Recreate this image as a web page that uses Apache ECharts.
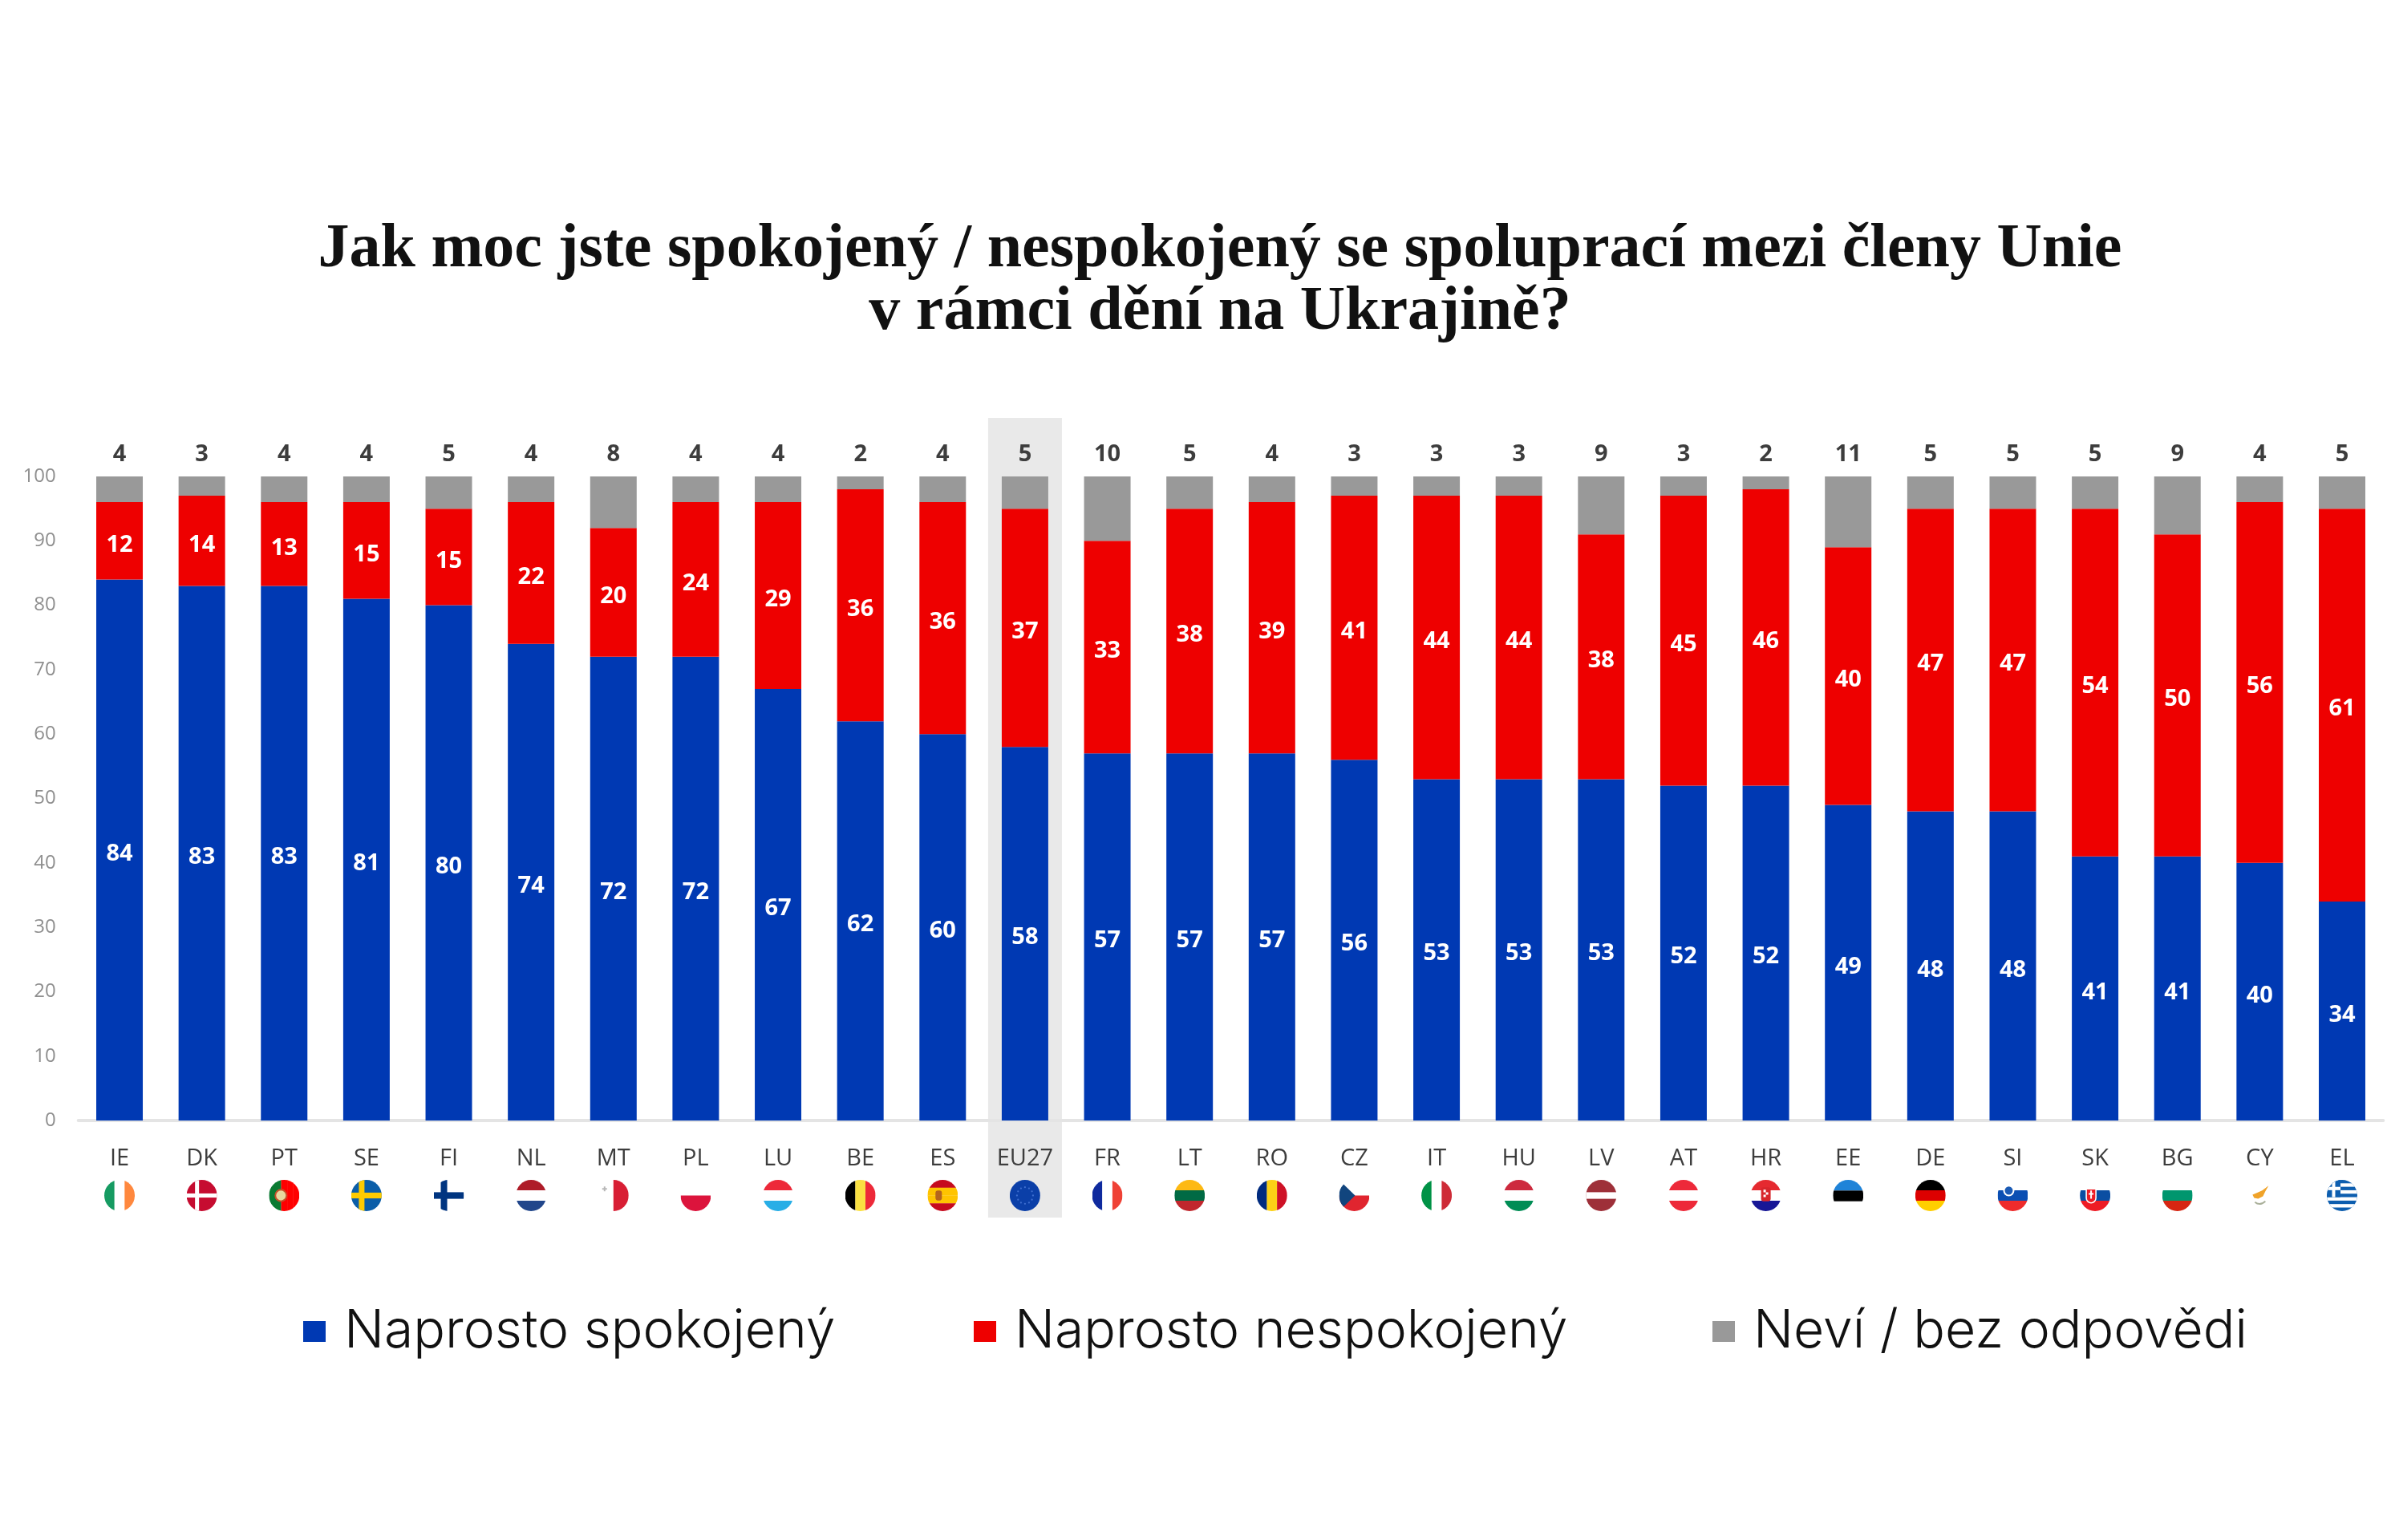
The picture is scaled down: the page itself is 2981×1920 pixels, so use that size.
<!DOCTYPE html>
<html lang="cs">
<head>
<meta charset="utf-8">
<title>Spokojenost se spoluprací členů Unie</title>
<script src="https://cdn.jsdelivr.net/npm/echarts@6/dist/echarts.min.js"></script>
<style>
  html, body { margin: 0; padding: 0; background: #fff; }
  #chart { width: 2981px; height: 1920px; }
</style>
</head>
<body>
<div id="chart"></div>
<script>
// Survey results per member state, in percent
const countries = ['IE','DK','PT','SE','FI','NL','MT','PL','LU','BE','ES','EU27','FR','LT','RO','CZ','IT','HU','LV','AT','HR','EE','DE','SI','SK','BG','CY','EL'];
const satisfied = [84,83,83,81,80,74,72,72,67,62,60,58,57,57,57,56,53,53,53,52,52,49,48,48,41,41,40,34];
const dissatisfied = [12,14,13,15,15,22,20,24,29,36,36,37,33,38,39,41,44,44,38,45,46,40,47,47,54,50,56,61];
const unknown = [4,3,4,4,5,4,8,4,4,2,4,5,10,5,4,3,3,3,9,3,2,11,5,5,5,9,4,5];
const valueTicks = [0,10,20,30,40,50,60,70,80,90,100];
const seriesNames = ['Naprosto spokojený', 'Naprosto nespokojený', 'Neví / bez odpovědi'];
const highlighted = ['EU27'];
const titleLines = ['Jak moc jste spokojený / nespokojený se spoluprací mezi členy Unie', 'v rámci dění na Ukrajině?'];

const BLUE = '#0039b3', RED = '#ee0000', GREY = '#999999', INK = '#3d3d3d';

// Flag artwork: stripe helpers on a 38-unit square, clipped to a circle below
const rows = (...c) => c.map((f, i) => `<rect x="0" y="${i * 38 / c.length}" width="38" height="${38 / c.length + .2}" fill="${f}"/>`).join('');
const cols = (...c) => c.map((f, i) => `<rect x="${i * 38 / c.length}" y="0" width="${38 / c.length + .2}" height="38" fill="${f}"/>`).join('');
const nordic = (bg, arm, w, inner, iw) =>
  `<rect width="38" height="38" fill="${bg}"/><rect x="${13 - w / 2}" width="${w}" height="38" fill="${arm}"/><rect y="${19 - w / 2}" width="38" height="${w}" fill="${arm}"/>` +
  (inner ? `<rect x="${13 - iw / 2}" width="${iw}" height="38" fill="${inner}"/><rect y="${19 - iw / 2}" width="38" height="${iw}" fill="${inner}"/>` : '');
const euStars = Array.from({ length: 12 }, (_, i) => {
  const a = i * Math.PI / 6;
  return `<circle cx="${19 + 10 * Math.cos(a)}" cy="${19 + 10 * Math.sin(a)}" r="1.1" fill="#3f6fd0"/>`;
}).join('');
const flagArt = {
  IE: cols('#169b62', '#ffffff', '#ff883e'),
  DK: nordic('#c60c30', '#ffffff', 5),
  PT: cols('#0a7a32', '#0a7a32', '#ff0000', '#ff0000', '#ff0000') + '<circle cx="15" cy="19" r="7" fill="#e9d8a0" stroke="#c8502a" stroke-width="2"/>',
  SE: nordic('#0b5ea8', '#fecb00', 7),
  FI: nordic('#ffffff', '#003580', 8),
  NL: rows('#ae1c28', '#ffffff', '#21468b'),
  MT: cols('#ffffff', '#d81e34') + '<path d="M7 8h2v2h2v2H9v2H7v-2H5v-2h2z" fill="#b8b8b8"/>',
  PL: rows('#ffffff', '#dc143c'),
  LU: rows('#ed2939', '#ffffff', '#28aee6'),
  BE: cols('#000000', '#fae042', '#ed2939'),
  ES: rows('#c60b1e', '#ffc400', '#ffc400', '#c60b1e') + '<rect x="10" y="13" width="8" height="12" rx="3" fill="#b5651d"/>',
  EU27: '<rect width="38" height="38" fill="#0b3fa8"/>' + euStars,
  FR: cols('#0f2a9e', '#ffffff', '#ef4135'),
  LT: rows('#fdb913', '#006a44', '#c1272d'),
  RO: cols('#002b7f', '#fcd116', '#ce1126'),
  CZ: rows('#ffffff', '#e0252f') + '<path d="M0 0L20 19L0 38z" fill="#11457e"/>',
  IT: cols('#009246', '#ffffff', '#ce2b37'),
  HU: rows('#cd2a3e', '#ffffff', '#008d55'),
  LV: '<rect width="38" height="38" fill="#9e3039"/><rect y="15" width="38" height="8" fill="#ffffff"/>',
  AT: rows('#ed2939', '#ffffff', '#ed2939'),
  HR: rows('#e52a30', '#ffffff', '#171796') + '<rect x="13" y="9" width="12" height="17" rx="3" fill="#d8262c"/><path d="M16 12h3v3h-3zm3 3h3v3h-3zm-3 3h3v3h-3z" fill="#fff"/>',
  EE: '<rect width="38" height="13" fill="#1f83d8"/><rect y="13" width="38" height="13" fill="#000000"/>',
  DE: rows('#000000', '#dd0000', '#ffce00'),
  SI: rows('#ffffff', '#0a4fb3', '#ee2b2b') + '<circle cx="14" cy="13" r="6" fill="#1b5bb5" stroke="#fff" stroke-width="2"/>',
  SK: rows('#ffffff', '#0b4ea2', '#ee1c25') + '<path d="M8 11h12v11a6 6 0 0 1-12 0z" fill="#ee1c25" stroke="#fff" stroke-width="1.6"/><path d="M13 13h2v3h2v2h-2v5h-2v-5h-2v-2h2z" fill="#fff"/>',
  BG: rows('#ffffff', '#00966e', '#d62612'),
  CY: '<rect width="38" height="38" fill="#ffffff"/><path d="M10 18L17 15L22 13L30 7L26 14L23 20L17 23L12 22z" fill="#f0a329"/><path d="M13 27Q19 32 26 26" fill="none" stroke="#aab09a" stroke-width="2"/>',
  EL: '<rect width="38" height="38" fill="#0d5eaf"/>' +
      [4.2, 12.6, 21, 29.4].map(y => `<rect y="${y}" width="38" height="4.2" fill="#ffffff"/>`).join('') +
      '<rect width="17" height="21" fill="#0d5eaf"/><rect x="6.5" width="4" height="21" fill="#ffffff"/><rect y="8.5" width="17" height="4" fill="#ffffff"/>'
};
const flagUri = code => 'data:image/svg+xml;charset=utf-8,' + encodeURIComponent(
  `<svg xmlns="http://www.w3.org/2000/svg" width="76" height="76" viewBox="0 0 38 38"><defs><clipPath id="c"><circle cx="19" cy="19" r="19"/></clipPath></defs><g clip-path="url(#c)">${flagArt[code]}</g></svg>`
);

const FONT = '"Open Sans", sans-serif';
const flagStyles = {};
countries.forEach(code => {
  flagStyles['f' + code] = { width: 38, height: 39, backgroundColor: { image: flagUri(code) } };
});

const barLabel = { show: true, position: 'inside', offset: [0, 5], color: '#ffffff', fontFamily: FONT, fontWeight: 'bold', fontSize: 29 };
const legendSlots = [373, 1209, 2130];

const chart = echarts.init(document.getElementById('chart'), null, { renderer: 'canvas' });
chart.setOption({
  animation: false,
  backgroundColor: '#ffffff',
  title: {
    text: titleLines.join('\n'),
    left: 1516,
    top: 268,
    textAlign: 'center',
    textStyle: { fontFamily: '"Liberation Serif", serif', fontWeight: 'bold', fontSize: 78, lineHeight: 78, color: '#111111' }
  },
  legend: seriesNames.map((name, i) => ({
    data: [name],
    left: legendSlots[i],
    top: 1622,
    icon: 'rect',
    itemWidth: 28,
    itemHeight: 26,
    selectedMode: false,
    textStyle: { fontFamily: 'Inter, sans-serif', fontWeight: 300, fontSize: 66, color: '#111111', padding: [0, 0, 0, 18] }
  })),
  grid: { left: 97.7, right: 9.7, top: 594, bottom: 523 },
  xAxis: {
    type: 'category',
    data: countries,
    axisTick: { show: false },
    axisLine: { lineStyle: { color: '#e4e4e4', width: 4 } },
    axisLabel: {
      interval: 0,
      margin: 21,
      formatter: v => `{code|${v}}\n{f${v}|}`,
      rich: Object.assign({
        code: { fontFamily: FONT, fontSize: 29, color: INK, lineHeight: 53, align: 'center' }
      }, flagStyles)
    }
  },
  yAxis: {
    type: 'value',
    min: valueTicks[0],
    max: valueTicks[valueTicks.length - 1],
    interval: valueTicks[1] - valueTicks[0],
    splitLine: { show: false },
    axisLine: { show: false },
    axisTick: { show: false },
    axisLabel: { fontFamily: FONT, fontSize: 24, color: '#8f8f8f', margin: 28, padding: [5, 0, 0, 0] }
  },
  series: [
    {
      // Grey band behind the EU average column, running past the plot area
      type: 'custom',
      z: -1,
      silent: true,
      clip: false,
      data: highlighted.map(code => [code, 100]),
      encode: { x: 0, y: 1 },
      renderItem: (params, api) => {
        const p = api.coord([api.value(0), 100]);
        return {
          type: 'rect',
          shape: { x: p[0] - 46, y: p[1] - 73, width: 92, height: 997 },
          style: { fill: '#e9e9e9' }
        };
      }
    },
    { name: seriesNames[0], type: 'bar', stack: 'total', barWidth: 58, data: satisfied, itemStyle: { color: BLUE }, label: barLabel },
    { name: seriesNames[1], type: 'bar', stack: 'total', barWidth: 58, data: dissatisfied, itemStyle: { color: RED }, label: barLabel },
    {
      name: seriesNames[2], type: 'bar', stack: 'total', barWidth: 58, data: unknown, itemStyle: { color: GREY },
      label: { show: true, position: 'top', distance: 13, color: INK, fontFamily: FONT, fontWeight: 'bold', fontSize: 29 }
    }
  ]
});
</script>
</body>
</html>
